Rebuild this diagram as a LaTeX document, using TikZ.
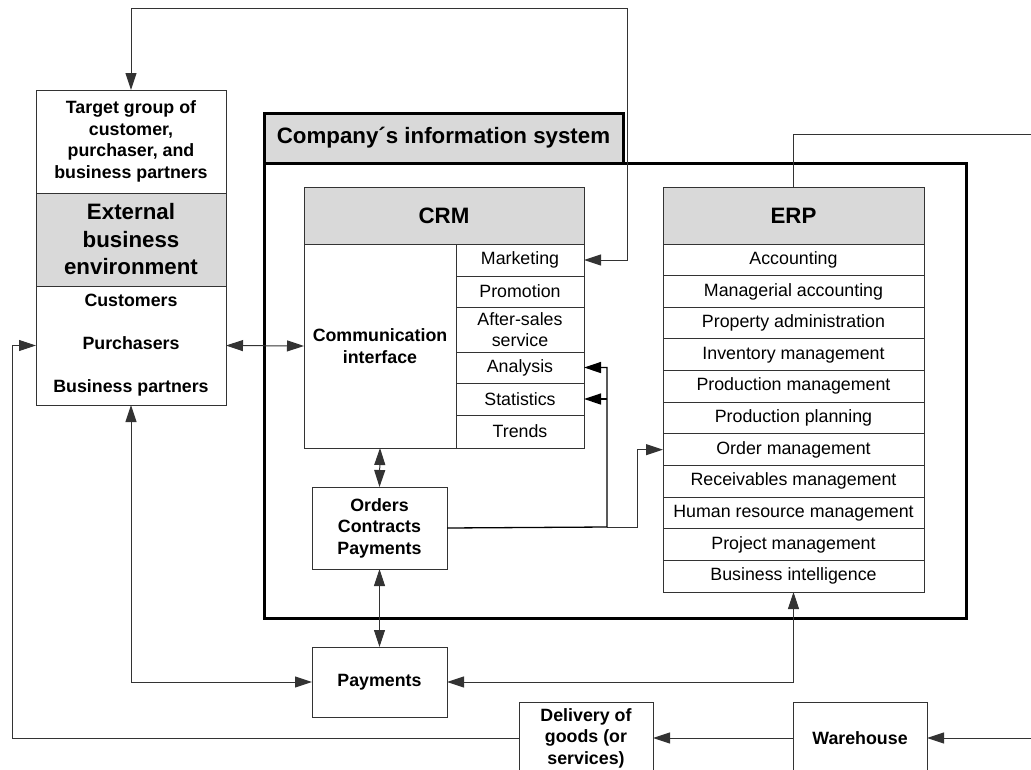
\documentclass[tikz,border=0pt]{standalone}
\usepackage{fontspec}
\setmainfont{Liberation Sans}
\usetikzlibrary{arrows.meta}
\definecolor{hdr}{HTML}{D9D9D9}
\definecolor{ln}{HTML}{333333}
\begin{document}
\begin{tikzpicture}[x=1pt,y=-1pt,
  cell/.style={draw=ln, line width=1pt, inner sep=0pt, outer sep=0pt, anchor=north west, align=center, font=\fontsize{17.8}{21.5}\selectfont},
  bcell/.style={cell, font=\fontsize{17.8}{21.5}\selectfont\bfseries},
  hcell/.style={cell, fill=hdr, font=\fontsize{22.3}{27.5}\selectfont\bfseries},
  thickbox/.style={draw=black, line width=3pt, inner sep=0pt, outer sep=0pt, anchor=north west},
  conn/.style={draw=ln, line width=1pt},
  strong/.style={draw=black, line width=1.3pt},
  >={Triangle[length=17pt,width=11pt]}
]
\useasboundingbox (0,0) rectangle (1031,769);

% company information system
\node[thickbox, minimum width=702pt, minimum height=455pt] (sys) at (264,163) {};
\node[thickbox, fill=hdr, minimum width=359pt, minimum height=50pt, font=\fontsize{22.3}{27.5}\selectfont\bfseries] (syshdr) at (264,113) {Company´s information system};

% external environment
\node[bcell, minimum width=190pt, minimum height=103pt] (ext1) at (36,90) {Target group of\\customer,\\purchaser, and\\business partners};
\node[hcell, minimum width=190pt, minimum height=93pt] (ext2) at (36,193) {External\\business\\environment};
\node[cell, minimum width=190pt, minimum height=119pt, font=\fontsize{17.8}{43}\selectfont\bfseries] (ext3) at (36,286) {Customers\\Purchasers\\Business partners};

% CRM
\node[hcell, minimum width=280pt, minimum height=57pt] (crm) at (304,187) {CRM};
\node[bcell, minimum width=152pt, minimum height=204pt] (comm) at (304,244) {Communication\\interface};
\node[cell, minimum width=128pt, minimum height=32pt] (mkt) at (456,244) {Marketing};
\node[cell, minimum width=128pt, minimum height=31pt] (promo) at (456,276) {Promotion};
\node[cell, minimum width=128pt, minimum height=45pt] (after) at (456,307) {After-sales\\service};
\node[cell, minimum width=128pt, minimum height=31pt] (ana) at (456,352) {Analysis};
\node[cell, minimum width=128pt, minimum height=32pt] (stat) at (456,383) {Statistics};
\node[cell, minimum width=128pt, minimum height=33pt] (trend) at (456,415) {Trends};

% ERP
\node[hcell, minimum width=261pt, minimum height=57pt] (erp) at (663,187) {ERP};
\foreach \t [count=\i from 0] in {Accounting, Managerial accounting, Property administration, Inventory management, Production management, Production planning, Order management, Receivables management, Human resource management, Project management, Business intelligence}
  \node[cell, minimum width=261pt, minimum height=31.64pt] (e\i) at (663,244+31.64*\i) {\t};

% other boxes
\node[bcell, minimum width=135pt, minimum height=82pt] (orders) at (312,487) {Orders\\Contracts\\Payments};
\node[bcell, minimum width=135pt, minimum height=70pt] (pay) at (312,647) {Payments};
\node[bcell, minimum width=134pt, minimum height=72pt] (deliv) at (519,702) {Delivery of\\goods (or\\services)};
\node[bcell, minimum width=134pt, minimum height=72pt] (ware) at (793,702) {Warehouse};

\coordinate (topR) at (627,8);
\coordinate (erpR) at (1031,134);
\coordinate (wR) at (1031,738);
\coordinate (split) at (607,527);
\coordinate (split2) at (637,527);
\coordinate (leftX) at (12,738);

% connectors
\draw[conn,<->] (ext1.north) |- (topR) |- (mkt.east);
\draw[conn] (erp.north) |- (erpR);
\draw[conn,<->] (ext3.east) -- (comm.west);
\draw[conn,<->] (comm.south) -- (orders.north);
\draw[conn,<->] (orders.south) -- (pay.north);
\draw[conn,->] (split) -- (split2) |- (e6.west);
\draw[strong,->] (orders.east) -- (split) |- (ana.east);
\draw[strong,->] (split |- stat.east) -- (stat.east);
\draw[conn,<->] (ext3.south) |- (pay.west);
\draw[conn,<->] (pay.east) -| (e10.south);
\draw[conn,->] (deliv.west) -- (leftX) |- (ext3.west);
\draw[conn,->] (ware.west) -- (deliv.east);
\draw[conn,->] (wR) -- (ware.east);
\end{tikzpicture}
\end{document}
